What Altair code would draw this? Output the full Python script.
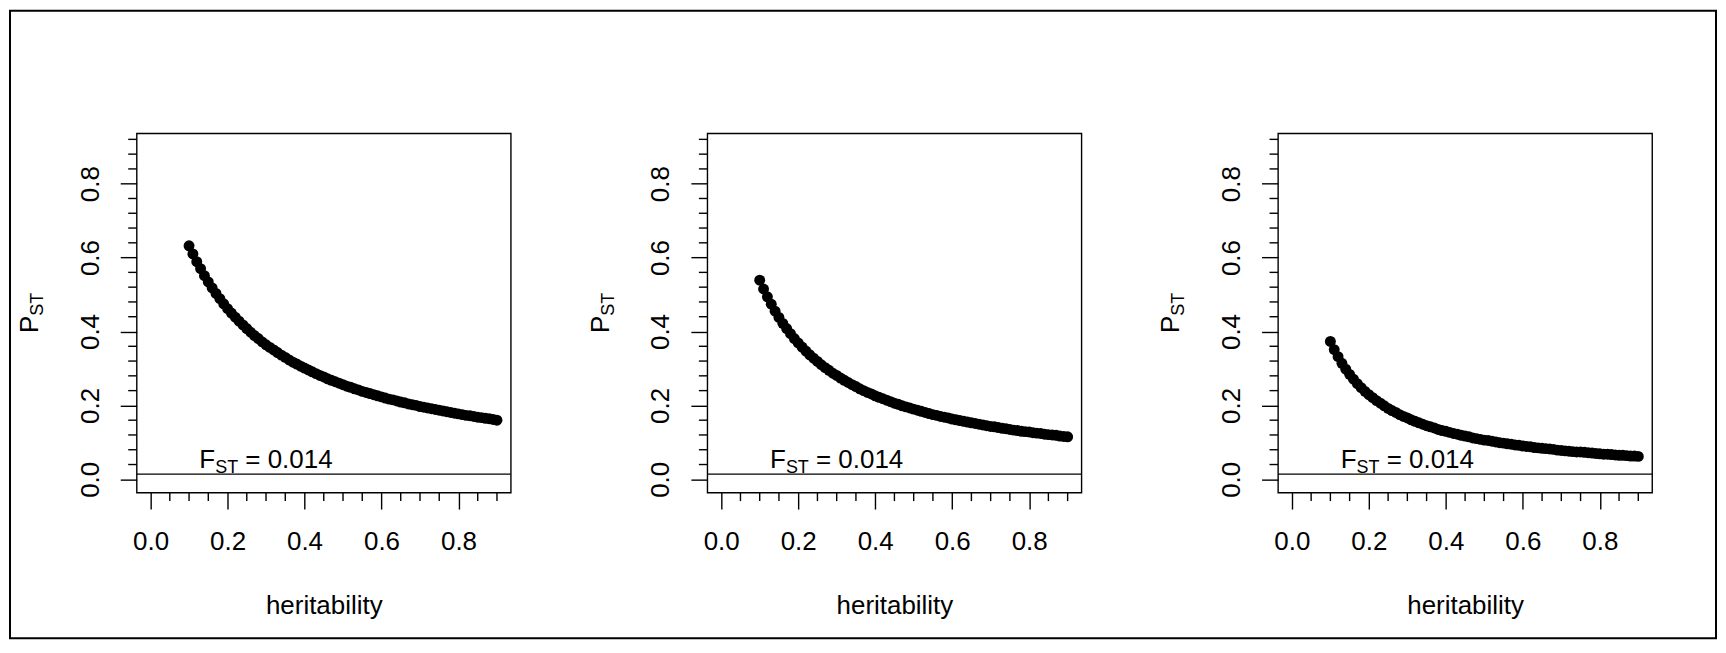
import altair as alt
import pandas as pd

# ---- data ----
heritability = [0.10, 0.11, 0.12, 0.13, 0.14, 0.15, 0.16, 0.17, 0.18, 0.19,
                0.20, 0.21, 0.22, 0.23, 0.24, 0.25, 0.26, 0.27, 0.28, 0.29,
                0.30, 0.31, 0.32, 0.33, 0.34, 0.35, 0.36, 0.37, 0.38, 0.39,
                0.40, 0.41, 0.42, 0.43, 0.44, 0.45, 0.46, 0.47, 0.48, 0.49,
                0.50, 0.51, 0.52, 0.53, 0.54, 0.55, 0.56, 0.57, 0.58, 0.59,
                0.60, 0.61, 0.62, 0.63, 0.64, 0.65, 0.66, 0.67, 0.68, 0.69,
                0.70, 0.71, 0.72, 0.73, 0.74, 0.75, 0.76, 0.77, 0.78, 0.79,
                0.80, 0.81, 0.82, 0.83, 0.84, 0.85, 0.86, 0.87, 0.88, 0.89,
                0.90]

pst_panel1 = [0.632, 0.610, 0.589, 0.570, 0.551, 0.534, 0.518, 0.503, 0.489, 0.475,
              0.462, 0.450, 0.439, 0.428, 0.418, 0.408, 0.398, 0.389, 0.381, 0.372,
              0.364, 0.357, 0.350, 0.343, 0.336, 0.330, 0.323, 0.317, 0.312, 0.306,
              0.301, 0.296, 0.291, 0.286, 0.281, 0.277, 0.272, 0.268, 0.264, 0.260,
              0.256, 0.252, 0.249, 0.245, 0.242, 0.238, 0.235, 0.232, 0.229, 0.226,
              0.223, 0.220, 0.217, 0.215, 0.212, 0.209, 0.207, 0.204, 0.202, 0.200,
              0.197, 0.195, 0.193, 0.191, 0.189, 0.187, 0.185, 0.183, 0.181, 0.179,
              0.177, 0.175, 0.173, 0.172, 0.170, 0.168, 0.167, 0.165, 0.164, 0.162,
              0.160]

pst_panel2 = [0.539, 0.515, 0.494, 0.474, 0.455, 0.438, 0.422, 0.408, 0.394, 0.381,
              0.369, 0.358, 0.347, 0.337, 0.328, 0.319, 0.310, 0.302, 0.295, 0.287,
              0.281, 0.274, 0.268, 0.262, 0.256, 0.251, 0.245, 0.240, 0.235, 0.231,
              0.226, 0.222, 0.218, 0.214, 0.210, 0.206, 0.203, 0.199, 0.196, 0.193,
              0.190, 0.187, 0.184, 0.181, 0.178, 0.175, 0.173, 0.170, 0.168, 0.166,
              0.163, 0.161, 0.159, 0.157, 0.155, 0.153, 0.151, 0.149, 0.147, 0.145,
              0.143, 0.142, 0.140, 0.138, 0.137, 0.135, 0.133, 0.132, 0.130, 0.129,
              0.128, 0.126, 0.125, 0.124, 0.122, 0.121, 0.120, 0.119, 0.117, 0.116,
              0.115]

pst_panel3 = [0.373, 0.351, 0.332, 0.314, 0.298, 0.284, 0.271, 0.259, 0.248, 0.238,
              0.229, 0.221, 0.213, 0.206, 0.199, 0.192, 0.186, 0.181, 0.175, 0.170,
              0.166, 0.161, 0.157, 0.153, 0.149, 0.145, 0.142, 0.139, 0.135, 0.132,
              0.130, 0.127, 0.124, 0.122, 0.119, 0.117, 0.115, 0.112, 0.110, 0.108,
              0.106, 0.105, 0.103, 0.101, 0.099, 0.098, 0.096, 0.095, 0.093, 0.092,
              0.090, 0.089, 0.088, 0.086, 0.085, 0.084, 0.083, 0.082, 0.081, 0.079,
              0.078, 0.077, 0.076, 0.075, 0.074, 0.074, 0.073, 0.072, 0.071, 0.070,
              0.069, 0.068, 0.068, 0.067, 0.066, 0.065, 0.065, 0.064, 0.063, 0.063,
              0.062]

fst_value = [0.014]
fst_label = ["F", "ST", "= 0.014"]
pst_label = ["P", "ST"]
x_title = "heritability"

x_major = [0.0, 0.2, 0.4, 0.6, 0.8]
x_minor = [0.05, 0.1, 0.15, 0.25, 0.3, 0.35, 0.45, 0.5, 0.55, 0.65, 0.7, 0.75, 0.85, 0.9]
y_major = [0.0, 0.2, 0.4, 0.6, 0.8]
y_minor = [0.04, 0.08, 0.12, 0.16, 0.24, 0.28, 0.32, 0.36, 0.44, 0.48, 0.52, 0.56,
           0.64, 0.68, 0.72, 0.76, 0.84, 0.88, 0.92]
axis_domain = [-0.036, 0.936]

# ---- styling ----
FONT = "Liberation Sans"
W, H = 375, 360
LW = 1.4
MAJOR, MINOR = 16.5, 8.5

xs = alt.Scale(domain=axis_domain, nice=False, zero=False)
ys = alt.Scale(domain=axis_domain, nice=False, zero=False)

common_axis = dict(format=".1f", tickSize=MAJOR, tickWidth=LW, tickColor="black",
                   labelFont=FONT, labelFontSize=26, labelColor="black",
                   labelFlush=False, labelOverlap=False, labelBound=False,
                   domain=False, grid=False)

xaxis = alt.Axis(values=x_major, title=x_title, labelPadding=40.2,
                 labelBaseline="alphabetic", labelAlign="center",
                 titleFont=FONT, titleFontSize=26, titleFontWeight="normal",
                 titleColor="black", titleBaseline="alphabetic", titleY=121.3,
                 **common_axis)
yaxis = alt.Axis(values=y_major, title=None, labelAngle=270, labelAlign="center",
                 labelBaseline="alphabetic", labelPadding=22.2, **common_axis)

one = pd.DataFrame({"k": [0]})


def txt(s, x, y, size, angle=0):
    return alt.Chart(one).mark_text(
        text=s, font=FONT, fontSize=size, color="black",
        align="left", baseline="alphabetic", angle=angle
    ).encode(x=alt.value(x), y=alt.value(y))


def panel(values, border=False):
    df = pd.DataFrame({"h": heritability, "p": values})
    pts = alt.Chart(df).mark_circle(size=120, color="black", opacity=1).encode(
        x=alt.X("h:Q", scale=xs, axis=xaxis),
        y=alt.Y("p:Q", scale=ys, axis=yaxis),
    )
    fst = alt.Chart(pd.DataFrame({"f": fst_value})).mark_rule(
        color="black", strokeWidth=LW
    ).encode(y=alt.Y("f:Q", scale=ys, axis=yaxis))
    xmin = alt.Chart(pd.DataFrame({"t": x_minor})).mark_rule(
        color="black", strokeWidth=LW
    ).encode(x=alt.X("t:Q", scale=xs, axis=xaxis),
             y=alt.value(H), y2=alt.value(H + MINOR))
    ymin = alt.Chart(pd.DataFrame({"t": y_minor})).mark_rule(
        color="black", strokeWidth=LW
    ).encode(y=alt.Y("t:Q", scale=ys, axis=yaxis),
             x=alt.value(-MINOR), x2=alt.value(0))
    layers = [fst, xmin, ymin, pts,
              txt(fst_label[0], 62.8, 335.3, 26),
              txt(fst_label[1], 78.7, 340.3, 18),
              txt(fst_label[2], 108.9, 335.3, 26),
              txt(pst_label[0], -99, 200, 26, 270),
              txt(pst_label[1], -94, 182.7, 18, 270)]
    if border:
        frame = alt.Chart(one).mark_rect(
            fillOpacity=0, stroke="black", strokeWidth=2
        ).encode(x=alt.value(-127), x2=alt.value(1583),
                 y=alt.value(-123), y2=alt.value(506))
        layers = [frame] + layers
    return alt.layer(*layers).properties(width=W, height=H)


chart = alt.hconcat(
    panel(pst_panel1, border=True), panel(pst_panel2), panel(pst_panel3),
    spacing=197, bounds="flush"
).properties(padding=0).configure_view(stroke="black", strokeWidth=LW)

chart.save("out.html", embed_options={"renderer": "svg", "actions": False})
